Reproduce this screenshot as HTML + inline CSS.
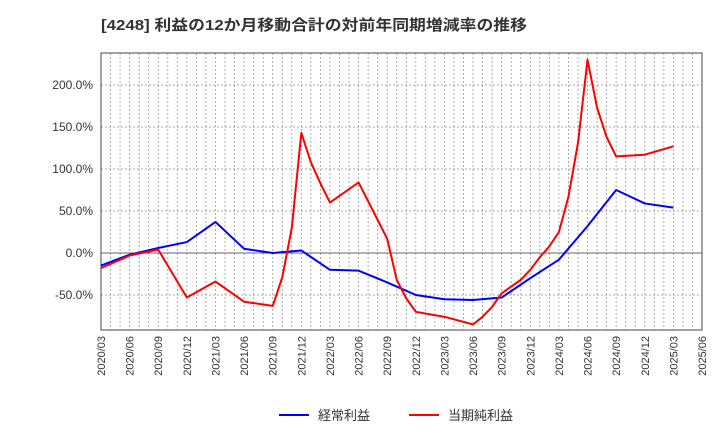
<!DOCTYPE html>
<html><head><meta charset="utf-8"><style>
body{margin:0;background:#fff;}
svg text{font-family:"Liberation Sans","Noto Sans CJK JP",sans-serif;}
</style></head><body>
<svg id="c" width="720" height="440" xmlns="http://www.w3.org/2000/svg">
<text x="101" y="30" font-size="15" font-weight="bold" fill="#333" textLength="426" lengthAdjust="spacingAndGlyphs">[4248]  利益の12か月移動合計の対前年同期増減率の推移</text>
<g id="grid"></g>
<g id="axes"></g>
<g id="series"></g>
<g>
<line x1="279" y1="415" x2="309" y2="415" stroke="#0000ff" stroke-width="2"/>
<text x="318" y="420" font-size="13" fill="#333">経常利益</text>
<line x1="409" y1="415" x2="439" y2="415" stroke="#ff0000" stroke-width="2"/>
<text x="448" y="420" font-size="13" fill="#333">当期純利益</text>
</g>
</svg>
<script>
const xTickLabels=["2020/03","2020/06","2020/09","2020/12","2021/03","2021/06","2021/09","2021/12","2022/03","2022/06","2022/09","2022/12","2023/03","2023/06","2023/09","2023/12","2024/03","2024/06","2024/09","2024/12","2025/03","2025/06"];
const yTicks=[-50,0,50,100,150,200];
const blueMonths=[0,3,6,9,12,15,18,21,24,27,30,33,36,39,42,45,48,51,54,57,60];
const blueValues=[-15,-2,6,13,37,5,0,3,-20,-21,-35,-50,-55,-56,-53,-30,-8,32,75,59,54];
const redMonths=[0,3,6,9,12,15,18,19,20,21,22,23,24,27,30,31,32,33,36,39,40,41,42,43,44,45,46,47,48,49,50,51,52,53,54,57,60];
const redValues=[-18,-3,4,-53,-34,-58,-63,-29,30,143,108,83,60,84,17,-32,-54,-70,-76,-85,-76,-64,-48,-40,-32,-20,-5,8,25,67,131,230,173,138,115,117,127];
const L=101,R=702,T=53,B=330;
const x=m=>L+m*(R-L)/63;
const y=v=>253-v*42/50;
const NS="http://www.w3.org/2000/svg";
function mk(tag,attrs,parent){const e=document.createElementNS(NS,tag);for(const k in attrs)e.setAttribute(k,attrs[k]);parent.appendChild(e);return e;}
const grid=document.getElementById('grid'),axes=document.getElementById('axes'),series=document.getElementById('series');
for(let m=1;m<63;m++){const l=mk('line',{x1:x(m),x2:x(m),y1:T,y2:B,stroke:'#999','stroke-width':0.8,'stroke-dasharray':'2,2'},grid);

}
yTicks.forEach(v=>{const l=mk('line',{x1:L,x2:R,y1:y(v),y2:y(v),stroke:v===0?'#666':'#888','stroke-width':v===0?1:0.8,'stroke-dasharray':v===0?'':'2,2'},grid);


const t=mk('text',{x:L-8,y:y(v)+4,'text-anchor':'end','font-size':12,fill:'#333'},axes);t.textContent=v.toFixed(1)+'%';

});
xTickLabels.forEach((s,i)=>{const px=x(i*3);const t=mk('text',{x:0,y:0,'text-anchor':'end','font-size':11,fill:'#333',transform:`translate(${px+4},${B+6}) rotate(-90)`},axes);t.textContent=s;

});
const fr=mk('rect',{x:L,y:T,width:R-L,height:B-T,fill:'none',stroke:'#444','stroke-width':1},axes);


function line(ms,vs,col,name){const p=mk('polyline',{points:ms.map((m,i)=>x(m)+','+y(vs[i])).join(' '),fill:'none',stroke:col,'stroke-width':2,'stroke-linejoin':'round'},series);

}
line(blueMonths,blueValues,'#0000ff','ordinary-profit-line');
line(redMonths,redValues,'#ff0000','net-profit-line');
</script>
</body></html>
